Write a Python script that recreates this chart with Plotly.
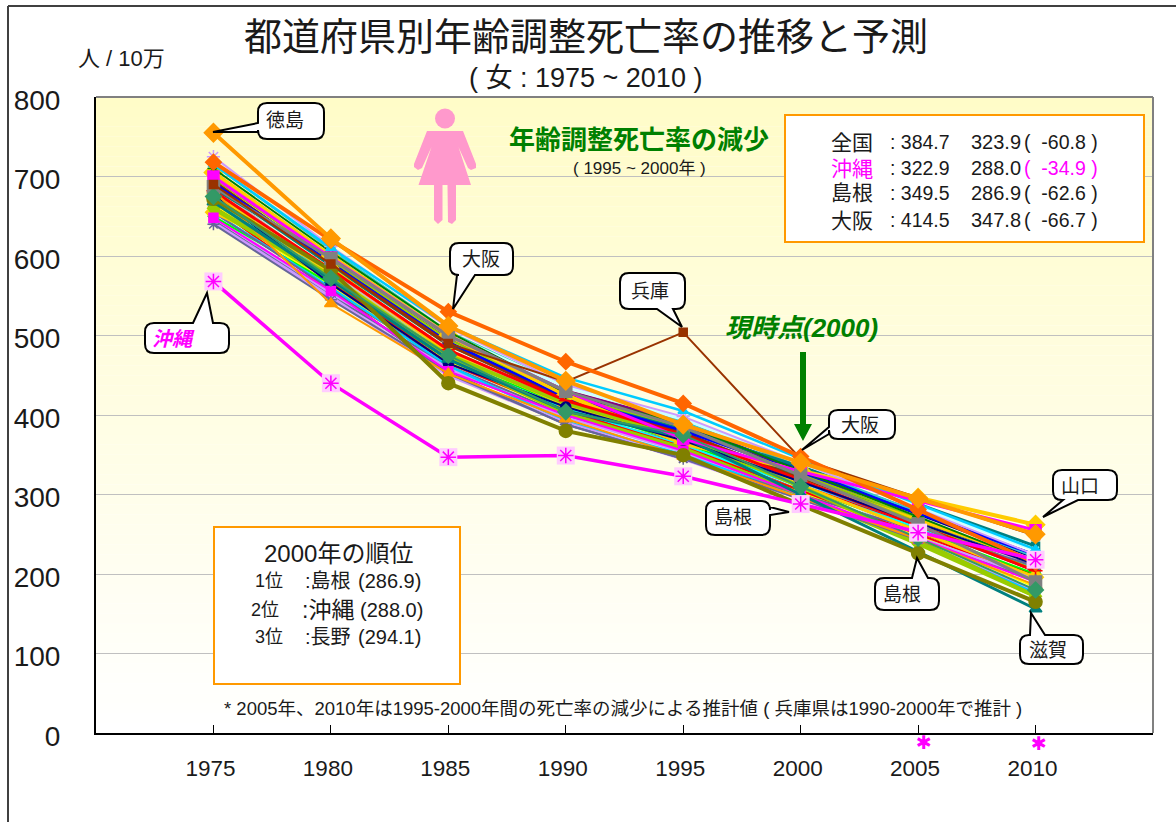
import plotly.graph_objects as go

# ---------- data ----------
years = [1975, 1980, 1985, 1990, 1995, 2000, 2005, 2010]
y_ticks = [0, 100, 200, 300, 400, 500, 600, 700, 800]

hokkaido = [690, 590, 490, 420, 385, 330, 275, 220]
aomori = [725, 612, 510, 438, 398, 340, 282, 224]
iwate = [680, 575, 480, 412, 372, 316, 260, 204]
miyagi = [655, 560, 465, 405, 362, 306, 250, 194]
akita = [700, 600, 500, 430, 390, 328, 266, 204]
yamagata = [670, 570, 470, 402, 358, 305, 252, 199]
fukushima = [690, 588, 488, 420, 376, 322, 268, 214]
ibaraki = [705, 600, 498, 428, 386, 332, 278, 224]
tochigi = [715, 608, 505, 436, 392, 335, 278, 221]
gunma = [655, 585, 478, 412, 370, 312, 254, 196]
saitama = [700, 595, 492, 425, 382, 326, 270, 214]
chiba = [678, 578, 480, 415, 372, 320, 268, 216]
tokyo = [677, 565, 465, 410, 368, 316, 264, 212]
kanagawa = [662, 556, 466, 405, 365, 312, 259, 206]
niigata = [650, 552, 458, 398, 354, 298, 240, 178]
toyama = [645, 550, 462, 400, 358, 308, 258, 208]
ishikawa = [660, 570, 475, 415, 372, 310, 242, 172]
fukui = [682, 540, 452, 395, 348, 296, 244, 186]
yamanashi = [672, 572, 472, 408, 366, 308, 250, 192]
nagano = [640, 545, 455, 388, 345, 294.1, 243, 192]
gifu = [682, 583, 482, 418, 375, 318, 261, 204]
shizuoka = [665, 562, 468, 402, 360, 304, 248, 184]
aichi = [695, 590, 488, 420, 378, 320, 262, 204]
mie = [675, 572, 475, 404, 375, 310, 245, 180]
shiga = [668, 570, 470, 405, 372, 300, 228, 156]
kyoto = [688, 580, 478, 416, 372, 318, 264, 210]
osaka = [718, 620, 530, 467, 414.5, 347.8, 281, 214]
hyogo = [690, 590, 490, 442, 504, 345, 296, 248]
nara = [650, 565, 470, 412, 365, 310, 255, 200]
wakayama = [700, 598, 500, 430, 370, 329, 292, 255]
tottori = [660, 575, 472, 402, 358, 300, 238, 172]
shimane = [672, 582, 440, 380, 349.5, 286.9, 226, 165]
okayama = [655, 560, 462, 392, 350, 298, 240, 176]
hiroshima = [670, 572, 470, 408, 362, 310, 258, 206]
yamaguchi = [705, 600, 500, 425, 364, 330, 296, 262]
tokushima = [755, 622, 512, 443, 388, 340, 295, 250]
kagawa = [685, 598, 498, 425, 382, 335, 288, 235]
ehime = [692, 592, 492, 422, 380, 328, 276, 224]
kochi = [710, 605, 505, 428, 388, 330, 272, 214]
fukuoka = [703, 598, 502, 435, 395, 340, 285, 230]
saga = [698, 595, 495, 425, 385, 325, 265, 205]
nagasaki = [715, 610, 512, 447, 405, 345, 288, 231]
kumamoto = [648, 556, 455, 400, 355, 300, 245, 190]
oita = [662, 568, 465, 405, 360, 305, 250, 195]
miyazaki = [642, 548, 450, 390, 345, 295, 245, 195]
kagoshima = [655, 558, 452, 388, 345, 300, 255, 210]
zenkoku = [687, 597, 500, 430, 384.7, 323.9, 263, 190]
okinawa = [568, 440, 347, 349, 322.9, 288.0, 252, 218]

names = ["北海道", "青森", "岩手", "宮城", "秋田", "山形", "福島", "茨城", "栃木", "群馬", "埼玉", "千葉",
         "東京", "神奈川", "新潟", "富山", "石川", "福井", "山梨", "長野", "岐阜", "静岡", "愛知", "三重",
         "滋賀", "京都", "大阪", "兵庫", "奈良", "和歌山", "鳥取", "島根", "岡山", "広島", "山口", "徳島",
         "香川", "愛媛", "高知", "福岡", "佐賀", "長崎", "熊本", "大分", "宮崎", "鹿児島", "全国"]
series = [hokkaido, aomori, iwate, miyagi, akita, yamagata, fukushima, ibaraki, tochigi, gunma, saitama, chiba,
          tokyo, kanagawa, niigata, toyama, ishikawa, fukui, yamanashi, nagano, gifu, shizuoka, aichi, mie,
          shiga, kyoto, osaka, hyogo, nara, wakayama, tottori, shimane, okayama, hiroshima, yamaguchi, tokushima,
          kagawa, ehime, kochi, fukuoka, saga, nagasaki, kumamoto, oita, miyazaki, kagoshima, zenkoku]

# ---------- styles ----------
palette = ["#000080", "#FF00FF", "#00CCFF", "#00FFFF", "#800080", "#800000", "#008080", "#0000FF", "#33CCCC",
           "#CCFFFF", "#99CC00", "#FFCC00", "#99CCFF", "#FF0000", "#CC99FF", "#666699", "#3366FF", "#969696",
           "#CCFFFF", "#339966", "#00CCFF", "#FFFF00", "#993300", "#993366", "#333399", "#C0C0C0", "#000000",
           "#008000", "#00FF00", "#C0C0C0"]
symbols = ["diamond", "square", "triangle-up", "x-thin-open", "asterisk-open", "circle", "cross-thin-open"]
# drawn last, in this order
special = {
    "山口": ("#FFCC00", "diamond", 4, 14),
    "群馬": ("#FFCC00", "diamond", 3, 12),
    "石川": ("#99CC00", "circle", 4, 9),
    "鳥取": ("#99CC00", "diamond", 4, 9),
    "岐阜": ("#FF0000", "cross-thin-open", 3, 10),
    "東京": ("#000080", "circle", 2, 10),
    "長野": ("#666699", "asterisk-open", 2, 10),
    "高知": ("#008000", "asterisk-open", 2, 10),
    "青森": ("#CC99FF", "asterisk-open", 2, 11),
    "長崎": ("#00CCFF", "triangle-up", 2.5, 9),
    "熊本": ("#FF00FF", "square", 2, 9),
    "福井": ("#FF9900", "triangle-up", 2, 11),
    "滋賀": ("#008080", "triangle-up", 3, 11),
    "和歌山": ("#FF00FF", "square", 3, 11),
    "島根": ("#808000", "circle", 4, 13),
    "全国": ("#808080", "square", 3, 12),
    "三重": ("#339966", "diamond", 2, 12),
    "兵庫": ("#993300", "square", 2, 8),
    "大阪": ("#FF6600", "diamond", 4, 12),
    "徳島": ("#FF9900", "diamond", 4, 14),
}
widths = [2, 3, 2.5, 2, 3.5]

FONT = "Liberation Sans, Noto Sans CJK JP"
W, H = 1176, 822
L, R, T, B = 96, 1153, 97, 733


def px(x):
    return (x - L) / (R - L)


def py(y):
    return (B - y) / (B - T)


fig = go.Figure()

order = [i for i, n in enumerate(names) if n not in special] + [names.index(n) for n in special]
for i in order:
    n = names[i]
    if n in special:
        col, sym, lw, ms = special[n]
    else:
        col, sym, lw, ms = palette[i % len(palette)], symbols[i % len(symbols)], widths[i % len(widths)], 8
    fig.add_trace(go.Scatter(x=years, y=series[i], name=n, mode="lines+markers",
                             line=dict(color=col, width=lw),
                             marker=dict(symbol=sym, size=ms, color=col, line=dict(color=col, width=1.5))))

fig.add_trace(go.Scatter(x=years, y=okinawa, name="沖縄", mode="lines+markers",
                         line=dict(color="#FF00FF", width=3.5),
                         marker=dict(symbol="square", size=18, color="#FFCCFF", line=dict(width=0))))
fig.add_trace(go.Scatter(x=years, y=okinawa, name="沖縄", mode="markers", showlegend=False,
                         marker=dict(symbol="asterisk-open", size=13, color="#FF00FF",
                                     line=dict(color="#FF00FF", width=1.5))))

shapes = []
STEPS = 64
for k in range(STEPS):
    t = k / (STEPS - 1)
    g = round(252 + 3 * t)
    b = round(200 + 55 * t)
    shapes.append(dict(type="rect", xref="paper", yref="paper", layer="below", line=dict(width=0),
                       fillcolor=f"rgb(255,{g},{b})",
                       x0=0, x1=1, y0=1 - (k + 1) / STEPS, y1=1 - k / STEPS))


def line(x0, y0, x1, y1, color, width):
    shapes.append(dict(type="line", xref="paper", yref="paper", x0=px(x0), y0=py(y0), x1=px(x1), y1=py(y1),
                       line=dict(color=color, width=width)))


def poly(points, fill):
    d = "M" + " L".join(f"{px(a):.5f},{py(b):.5f}" for a, b in points) + " Z"
    shapes.append(dict(type="path", xref="paper", yref="paper", path=d, fillcolor=fill, line=dict(width=0)))


def P(a, b):
    return f"{px(a):.5f},{py(b):.5f}"


def callout(x0, y0, x1, y1, side, a, b, tip, r=9):
    d = f"M{P(x0 + r, y0)}"
    if side == "top":
        d += f" L{P(a, y0)} L{P(*tip)} L{P(b, y0)}"
    d += f" L{P(x1 - r, y0)} Q{P(x1, y0)} {P(x1, y0 + r)}"
    if side == "right":
        d += f" L{P(x1, a)} L{P(*tip)} L{P(x1, b)}"
    d += f" L{P(x1, y1 - r)} Q{P(x1, y1)} {P(x1 - r, y1)}"
    if side == "bottom":
        d += f" L{P(b, y1)} L{P(*tip)} L{P(a, y1)}"
    d += f" L{P(x0 + r, y1)} Q{P(x0, y1)} {P(x0, y1 - r)}"
    if side == "left":
        d += f" L{P(x0, b)} L{P(*tip)} L{P(x0, a)}"
    d += f" L{P(x0, y0 + r)} Q{P(x0, y0)} {P(x0 + r, y0)} Z"
    shapes.append(dict(type="path", xref="paper", yref="paper", path=d, fillcolor="#FFFFFF",
                       line=dict(color="#000000", width=2)))


line(8, 6, W, 6, "#404040", 2)
line(8, 6, 8, H, "#404040", 2)
line(L, T, R, T, "#808080", 2)
line(R, T, R, B, "#808080", 2)

for (a, b, c, d) in [(785, 115, 1144, 242), (214, 527, 460, 684)]:
    shapes.append(dict(type="rect", xref="paper", yref="paper", x0=px(a), x1=px(c), y0=py(d), y1=py(b),
                       fillcolor="#FFFFFF", line=dict(color="#FF9900", width=2)))

PINK = "#FF99CC"
shapes.append(dict(type="circle", xref="paper", yref="paper", x0=px(435), x1=px(455), y0=py(128.5), y1=py(108.5),
                   fillcolor=PINK, line=dict(width=0)))
poly([(427, 131), (463, 131), (476, 164), (476, 168), (471, 170), (468, 168), (458.5, 147), (471, 185),
      (456, 185), (456, 220), (452, 224), (448, 222), (447.5, 185), (442.5, 185), (442.5, 220), (438, 224),
      (434, 220), (434, 185), (418.5, 185), (431.5, 147), (422, 168), (418, 170), (414, 167), (414, 164)], PINK)

poly([(800, 352), (806, 352), (806, 424), (812, 424), (803, 441), (794, 424), (800, 424)], "#008000")

callout(258, 103, 324, 139, "left", 123, 132, (213, 132))
callout(145, 323, 229, 353, "top", 193, 213, (207, 293))
callout(450, 243, 513, 275, "bottom", 457, 475, (453, 309))
callout(620, 273, 685, 309, "bottom", 657, 673, (682, 327))
callout(829, 410, 895, 439, "left", 427, 434, (802, 450))
callout(1053, 470, 1117, 500, "bottom", 1063, 1078, (1043, 517))
callout(875, 578, 939, 610, "top", 912, 928, (917, 558))
callout(1020, 635, 1083, 664, "top", 1030, 1045, (1031, 613))
callout(706, 501, 770, 535, "right", 507, 515, (789, 512))

ann = []


def text(x, y, s, size, color="#1A1A1A", anchor="center", family=FONT):
    ann.append(dict(xref="paper", yref="paper", x=px(x), y=py(y), text=s, showarrow=False, xanchor=anchor,
                    yanchor="middle", align="left", font=dict(family=family, size=size, color=color)))


text(586, 37, "都道府県別年齢調整死亡率の推移と予測", 38)
text(585, 78, "( 女 : 1975 ~ 2010 )", 27)
text(121, 59, "人 / 10万", 22)
text(639, 140, "<b>年齢調整死亡率の減少</b>", 26, "#008000")
text(639, 168, "( 1995 ~ 2000年 )", 17)
text(801, 328, "<b><i>現時点(2000)</i></b>", 26, "#008000")

rows = [("全国", "#1A1A1A", ": 384.7", "323.9", "(  -60.8 )", 142),
        ("沖縄", "#FF00FF", ": 322.9", "288.0", "(  -34.9 )", 168),
        ("島根", "#1A1A1A", ": 349.5", "286.9", "(  -62.6 )", 193),
        ("大阪", "#1A1A1A", ": 414.5", "347.8", "(  -66.7 )", 220)]
for nm, col, v0, v1, d, yy in rows:
    text(829, yy, nm, 21, col, "left")
    text(888, yy, v0, 19.5, "#1A1A1A", "left")
    text(969, yy, v1, 20, "#1A1A1A", "left")
    text(1022, yy, d, 19.5, col, "left")

text(338, 553, "2000年の順位", 24)
for rk, xr, nm, xn, sz, v, xv, yy in [("1位", 253, ":島根", 303, 20, "(286.9)", 356, 581),
                                      ("2位", 249, ":沖縄", 300, 23, "(288.0)", 358, 610),
                                      ("3位", 253, ":長野", 303, 20, "(294.1)", 356, 637)]:
    text(xr, yy, rk, 18, "#1A1A1A", "left")
    text(xn, yy, nm, sz, "#1A1A1A", "left")
    text(xv, yy, v, 20, "#1A1A1A", "left")

text(222, 708, "* 2005年、2010年は1995-2000年間の死亡率の減少による推計値 ( 兵庫県は1990-2000年で推計 )", 18.5, "#1A1A1A", "left")

for x, y, s in [(285, 120, "徳島"), (481, 259, "大阪"), (650, 291, "兵庫"), (860, 425, "大阪"),
                (1080, 486, "山口"), (902, 594, "島根"), (1048, 650, "滋賀"), (733, 517, "島根")]:
    text(x, y, s, 19)
text(173, 339, "<b><i>沖縄</i></b>", 20, "#FF00FF")

text(924, 742, "✱", 19, "#FF00FF", family="DejaVu Sans")
text(1039, 743, "✱", 19, "#FF00FF", family="DejaVu Sans")

fig.update_layout(
    width=W, height=H, autosize=False,
    margin=dict(l=L, r=W - R, t=T, b=H - B, pad=0),
    paper_bgcolor="#FFFFFF", plot_bgcolor="rgba(0,0,0,0)",
    showlegend=False, shapes=shapes, annotations=ann,
    font=dict(family=FONT, color="#1A1A1A"),
    xaxis=dict(range=[1970, 2015], tickmode="array", tickvals=years, ticktext=[str(v) for v in years],
               showgrid=False, zeroline=False, showline=True, linecolor="#000000", linewidth=2,
               ticks="inside", ticklen=8, tickwidth=1, tickcolor="#000000",
               tickfont=dict(family=FONT, size=22.5, color="#1A1A1A"), ticklabelstandoff=14, ticklabelshift=-3),
    yaxis=dict(range=[0, 800], tickmode="array", tickvals=y_ticks, ticktext=[str(v) for v in y_ticks],
               showgrid=True, gridcolor="#C0C0C0", gridwidth=1, zeroline=False,
               showline=True, linecolor="#000000", linewidth=2, ticks="",
               tickfont=dict(family=FONT, size=28, color="#1A1A1A"), ticklabelstandoff=28, ticklabelshift=3),
)

fig.write_html("out.html", config=dict(displayModeBar=False), default_width=f"{W}px", default_height=f"{H}px",
               post_script="document.body.style.margin='0';document.body.style.overflow='hidden';")
